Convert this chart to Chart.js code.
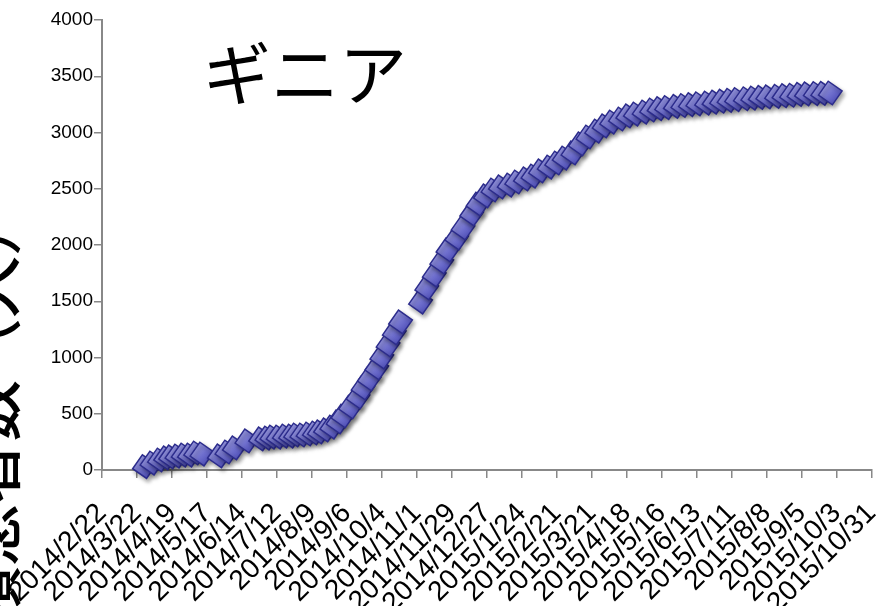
<!DOCTYPE html>
<html lang="ja">
<head>
<meta charset="utf-8">
<title>ギニア 累積患者数</title>
<script src="https://cdn.jsdelivr.net/npm/chart.js@4.4.1/dist/chart.umd.min.js"></script>
<style>
  html, body { margin: 0; padding: 0; background: #ffffff; }
  #wrap { position: relative; width: 885px; height: 606px; }
</style>
</head>
<body>
<div id="wrap"><canvas id="chart"></canvas></div>
<script>
// Report dates and cumulative case counts for Guinea
const reportDates = [
  '2014/3/28','2014/4/3','2014/4/9','2014/4/14','2014/4/18','2014/4/23','2014/4/28','2014/5/3',
  '2014/5/8','2014/5/13','2014/5/27','2014/6/2','2014/6/8','2014/6/18','2014/6/29','2014/7/4',
  '2014/7/8','2014/7/13','2014/7/18','2014/7/23','2014/7/27','2014/8/1','2014/8/6','2014/8/11',
  '2014/8/15','2014/8/20','2014/8/25','2014/8/30','2014/9/3','2014/9/9','2014/9/15','2014/9/19',
  '2014/9/24','2014/9/30','2014/10/4','2014/10/9','2014/10/14','2014/10/19','2014/11/4','2014/11/9',
  '2014/11/15','2014/11/21','2014/11/26','2014/12/3','2014/12/8','2014/12/15','2014/12/20','2014/12/26',
  '2015/1/1','2015/1/7','2015/1/14','2015/1/20','2015/1/27','2015/2/2','2015/2/8','2015/2/15',
  '2015/2/21','2015/2/27','2015/3/6','2015/3/12','2015/3/18','2015/3/25','2015/3/31','2015/4/6',
  '2015/4/13','2015/4/19','2015/4/25','2015/5/2','2015/5/8','2015/5/14','2015/5/20','2015/5/27',
  '2015/6/2','2015/6/8','2015/6/14','2015/6/21','2015/6/27','2015/7/3','2015/7/9','2015/7/15',
  '2015/7/22','2015/7/28','2015/8/3','2015/8/9','2015/8/16','2015/8/22','2015/8/28','2015/9/3',
  '2015/9/9','2015/9/16','2015/9/22','2015/9/28'
];
const caseCounts = [
  30, 62, 89, 107, 116, 124, 133, 133,
  151, 142, 125, 160, 196, 258, 276, 284,
  293, 293, 302, 302, 311, 311, 320, 329,
  338, 356, 382, 427, 480, 560, 649, 729,
  809, 907, 1004, 1111, 1218, 1316, 1493, 1618,
  1733, 1849, 1956, 2062, 2151, 2276, 2364, 2436,
  2489, 2516, 2533, 2560, 2587, 2613, 2658, 2693,
  2729, 2773, 2818, 2898, 2960, 3013, 3058, 3093,
  3120, 3147, 3164, 3182, 3200, 3212, 3222, 3232,
  3240, 3248, 3255, 3262, 3270, 3278, 3286, 3293,
  3300, 3306, 3312, 3317, 3322, 3327, 3331, 3338,
  3343, 3346, 3348, 3351
];
// Date axis labels, one every four weeks
const tickLabels = [
  '2014/2/22','2014/3/22','2014/4/19','2014/5/17','2014/6/14','2014/7/12','2014/8/9',
  '2014/9/6','2014/10/4','2014/11/1','2014/11/29','2014/12/27','2015/1/24','2015/2/21',
  '2015/3/21','2015/4/18','2015/5/16','2015/6/13','2015/7/11','2015/8/8','2015/9/5',
  '2015/10/3','2015/10/31'
];
const yTicks = [0, 500, 1000, 1500, 2000, 2500, 3000, 3500, 4000];
const chartTitle = 'ギニア';
const yAxisTitle = '累積患者数（人）';

const DAY = 86400000;
function dayNumber(s) {
  const [y, m, d] = s.split('/').map(Number);
  return Date.UTC(y, m - 1, d);
}
const origin = dayNumber(tickLabels[0]);
const toDays = s => Math.round((dayNumber(s) - origin) / DAY);
const tickStep = toDays(tickLabels[1]);
const points = reportDates.map((d, i) => ({ x: toDays(d), y: caseCounts[i] }));

const MARKER_R = 12;

// Shaded fill for each diamond, lighter towards the upper left
function markerFill(ctx) {
  const chart = ctx.chart;
  const p = ctx.parsed;
  if (!p || !chart.scales.x || !chart.scales.y) return '#6a6ac9';
  const px = chart.scales.x.getPixelForValue(p.x);
  const py = chart.scales.y.getPixelForValue(p.y);
  if (!isFinite(px) || !isFinite(py)) return '#6a6ac9';
  const g = chart.ctx.createLinearGradient(px - MARKER_R * 0.7, py - MARKER_R * 0.7, px + MARKER_R * 0.7, py + MARKER_R * 0.7);
  g.addColorStop(0, '#a4a4ea');
  g.addColorStop(0.55, '#6e6ecd');
  g.addColorStop(1, '#4a4ab4');
  return g;
}

// Soft drop shadow under the markers
const markerShadow = {
  id: 'markerShadow',
  beforeDatasetsDraw(chart) {
    const c = chart.ctx;
    c.save();
    c.shadowColor = 'rgba(0,0,0,0.35)';
    c.shadowBlur = 4;
    c.shadowOffsetX = 2;
    c.shadowOffsetY = 3;
  },
  afterDatasetsDraw(chart) { chart.ctx.restore(); }
};

// Country name inside the plot and the large rotated axis caption
const captions = {
  id: 'captions',
  afterDraw(chart) {
    const c = chart.ctx;
    c.save();
    c.fillStyle = '#000000';
    c.font = '68px "Noto Sans CJK JP", sans-serif';
    c.textAlign = 'left';
    c.textBaseline = 'middle';
    c.fillText(chartTitle, 203, 74);
    c.translate(-9, 690);
    c.rotate(-Math.PI / 2);
    c.font = '500 62px "Noto Sans CJK JP", sans-serif';
    c.fillText(yAxisTitle, 0, 0);
    c.restore();
  }
};

const axisGrey = '#888888';
const labelFont = '"Liberation Sans", Arial, sans-serif';

new Chart(document.getElementById('chart'), {
  type: 'scatter',
  data: {
    datasets: [{
      data: points,
      showLine: false,
      pointStyle: 'rectRot',
      rotation: -10,
      pointRadius: MARKER_R,
      pointHoverRadius: MARKER_R,
      backgroundColor: markerFill,
      borderColor: '#2c2c8c',
      borderWidth: 1.5,
      clip: false
    }]
  },
  options: {
    responsive: true,
    maintainAspectRatio: false,
    animation: false,
    events: [],
    layout: { padding: { left: 0, right: 6, top: 20, bottom: 0 } },
    plugins: {
      legend: { display: false },
      tooltip: { enabled: false },
      title: { display: false }
    },
    scales: {
      x: {
        type: 'linear',
        min: 0,
        max: toDays(tickLabels[tickLabels.length - 1]),
        grid: { drawOnChartArea: false, drawTicks: true, tickLength: 8, color: axisGrey, lineWidth: 1.5 },
        border: { color: axisGrey, width: 2 },
        ticks: {
          stepSize: tickStep,
          autoSkip: false,
          maxRotation: 45,
          minRotation: 45,
          padding: 19,
          color: '#000000',
          font: { family: labelFont, size: 28 },
          callback: v => tickLabels[Math.round(v / tickStep)] ?? ''
        },
        afterFit(scale) {
          scale.height = 136;
          scale.paddingLeft = 0;
          scale.paddingRight = 0;
        }
      },
      y: {
        min: yTicks[0],
        max: yTicks[yTicks.length - 1],
        grid: { drawOnChartArea: false, drawTicks: true, tickLength: 8, color: axisGrey, lineWidth: 1.5 },
        border: { color: axisGrey, width: 2 },
        afterBuildTicks(scale) { scale.ticks = yTicks.map(v => ({ value: v })); },
        ticks: {
          padding: 1,
          color: '#000000',
          font: { family: labelFont, size: 19 },
          callback: v => String(v)
        },
        afterFit(scale) {
          scale.width = 102;
          scale.paddingTop = 0;
          scale.paddingBottom = 0;
        }
      }
    }
  },
  plugins: [markerShadow, captions]
});
</script>
</body>
</html>
